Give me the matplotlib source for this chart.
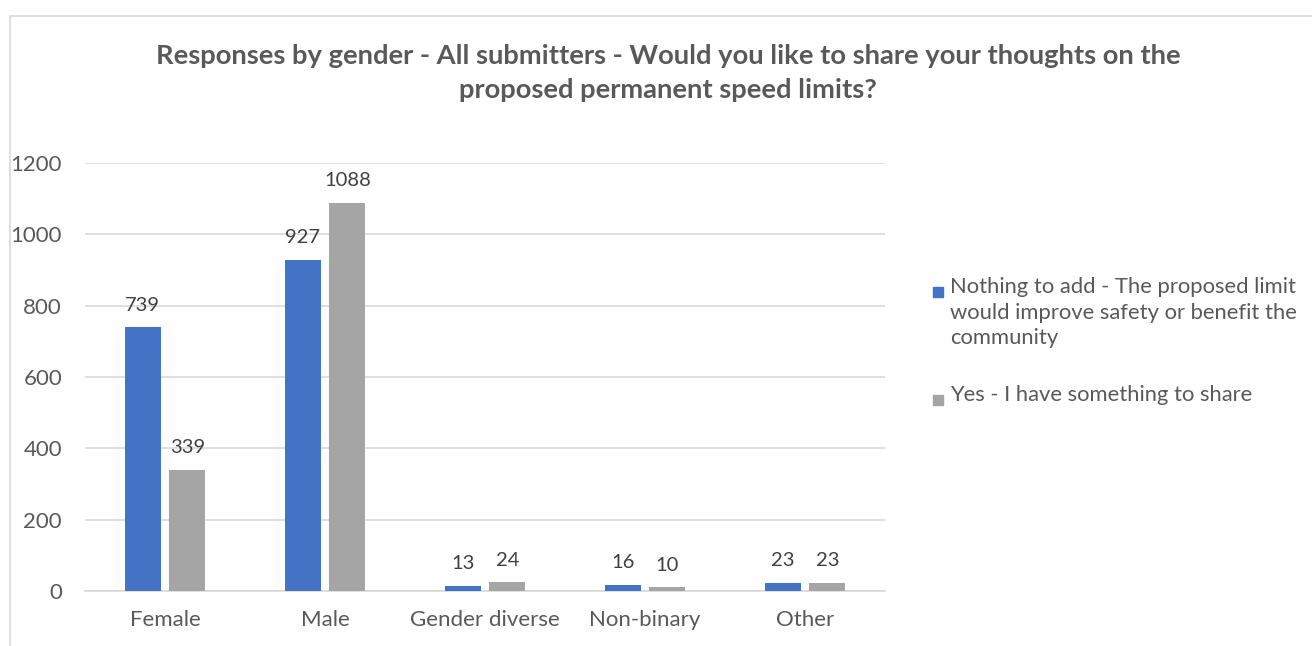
import matplotlib.pyplot as plt
from matplotlib.patches import Rectangle
import numpy as np

# --- DATA ---
categories = ["Female", "Male", "Gender diverse", "Non-binary", "Other"]
nothing_to_add = [739, 927, 13, 16, 23]
yes_share = [339, 1088, 24, 10, 23]
series_labels = [
    "Nothing to add - The proposed limit\nwould improve safety or benefit the\ncommunity",
    "Yes - I have something to share",
]

BLUE = "#4472C4"
GREY = "#A5A5A5"
TEXT = "#595959"
LABEL = "#404040"
GRID = "#D9D9D9"

W, H = 1312, 646
plt.rcParams['font.family'] = ['Lato', 'DejaVu Sans']

fig = plt.figure(figsize=(W / 100, H / 100), dpi=100)

# chart border (runs off the right and bottom edges)
fig.patches.append(Rectangle((10 / W, -0.1), 1.2, 1.1 - 16 / H, transform=fig.transFigure,
                             fill=False, edgecolor=GRID, linewidth=1.2))

ax = fig.add_axes([85 / W, 55 / H, 800 / W, 428 / H])

x = np.arange(len(categories))
bw = 0.225
off = 0.14
b1 = ax.bar(x - off, nothing_to_add, bw, color=BLUE, zorder=3)
b2 = ax.bar(x + off, yes_share, bw, color=GREY, zorder=3)

for bars in (b1, b2):
    for r in bars:
        ax.annotate(f"{int(r.get_height())}", (r.get_x() + r.get_width() / 2, r.get_height()),
                    xytext=(0, 10), textcoords="offset points", ha="center", va="bottom",
                    fontsize=14.5, color=LABEL)

ax.set_xlim(-0.5, len(categories) - 0.5)
ax.set_ylim(0, 1200)
ax.set_yticks(range(0, 1201, 200))
ax.yaxis.grid(True, color=GRID, linewidth=1.2, zorder=0)
ax.set_xticks(x)
ax.set_xticklabels(categories)
for s in ("top", "right", "left"):
    ax.spines[s].set_visible(False)
ax.spines["bottom"].set_color(GRID)
ax.spines["bottom"].set_linewidth(1.2)
ax.tick_params(axis="both", length=0, labelsize=16, colors=TEXT)
ax.tick_params(axis="y", pad=16.5)
ax.tick_params(axis="x", pad=14)

fig.text(668 / W, 1 - 73 / H,
         "Responses by gender - All submitters - Would you like to share your thoughts on the\n"
         "proposed permanent speed limits?",
         ha="center", va="center", fontsize=19.7, fontweight="bold", color=TEXT,
         linespacing=1.55)

# legend drawn by hand so the swatch sits on the first line
for (ytop, colour, label) in [(287, BLUE, series_labels[0]), (395, GREY, series_labels[1])]:
    fig.patches.append(Rectangle((933 / W, 1 - (ytop + 10) / H), 10 / W, 10 / H,
                                 transform=fig.transFigure, color=colour))
    fig.text(950 / W, 1 - (ytop - 10) / H, label, ha="left", va="top",
             fontsize=15.8, color=TEXT, linespacing=1.35)

fig.savefig("out.png", dpi=100)
